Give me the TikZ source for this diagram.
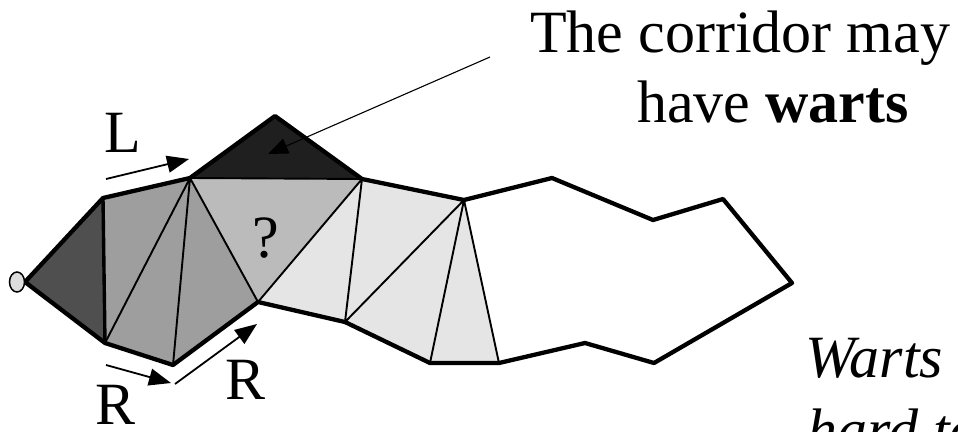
\documentclass[tikz,border=0pt]{standalone}
\usepackage{fontspec}
\setmainfont{Liberation Serif}
\usetikzlibrary{arrows.meta,shapes.geometric}
\definecolor{cdark}{HTML}{4F4F4F}
\definecolor{cmid}{HTML}{9E9E9E}
\definecolor{cq}{HTML}{BBBBBB}
\definecolor{clight}{HTML}{E5E5E5}
\definecolor{cwart}{HTML}{1F1F1F}
\definecolor{cdot}{HTML}{DDDDDD}
\begin{document}
\begin{tikzpicture}[x=1pt,y=-1pt,
  thinedge/.style={line width=1.9pt, line join=round},
  thickedge/.style={line width=4.3pt, line join=round},
  bigtext/.style={font=\fontsize{60}{70}\selectfont, inner sep=0pt},
  arr/.style={line width=1.8pt, -{Triangle[length=22pt,width=17pt]}},
  wartarr/.style={line width=1.1pt, -{Triangle[length=20pt,width=16pt]}},
]
\useasboundingbox (0,0) rectangle (958,431);
\clip (0,0) rectangle (958,431);
% vertices
\coordinate (P0) at (25,282);
\coordinate (A) at (103,198);
\coordinate (C) at (190,178);
\coordinate (W) at (275,116);
\coordinate (F) at (362,179);
\coordinate (G) at (464,200);
\coordinate (T1) at (552,178);
\coordinate (T2) at (653,220);
\coordinate (T3) at (723,199);
\coordinate (T4) at (792,283);
\coordinate (T5) at (654,363);
\coordinate (T6) at (585,343);
\coordinate (J) at (499,363);
\coordinate (I) at (430,363);
\coordinate (H) at (345,322);
\coordinate (E) at (258,302);
\coordinate (D) at (173,365);
\coordinate (B) at (105,343);
% fills
\fill[cdark] (P0)--(A)--(B)--cycle;
\fill[cmid] (A)--(C)--(E)--(D)--(B)--cycle;
\fill[cq] (C)--(F)--(E)--cycle;
\fill[cwart] (C)--(W)--(F)--cycle;
\fill[clight] (E)--(F)--(G)--(J)--(I)--(H)--cycle;
% interior edges
\draw[thinedge] (B)--(C) (D)--(C) (C)--(E) (C)--(F)
  (E)--(F) (F)--(H) (H)--(G) (G)--(I) (G)--(J);
\draw[line width=3.4pt] (A)--(B);
% boundary
\draw[thickedge] (P0)--(A)--(C)--(W)--(F)--(G)--(T1)--(T2)--(T3)--(T4)
  --(T5)--(T6)--(J)--(I)--(H)--(E)--(D)--(B)--cycle;
% small end circle
\node[ellipse, draw, line width=1.5pt, fill=cdot, minimum width=15pt,
  minimum height=20pt, inner sep=0pt] (dot) at (17,282) {};
% labels
\node[bigtext, anchor=base] (lL) at (123,152) {L};
\node[bigtext, anchor=base] (lR1) at (116,424) {R};
\node[bigtext, anchor=base] (lR2) at (246,399) {R};
\node[bigtext, anchor=base] (lq) at (266,257) {?};
% arrows
\coordinate (La) at (106,179);
\coordinate (Lb) at (189,159);
\draw[arr] (La) -- (Lb);
\coordinate (Ra) at (106,365);
\coordinate (Rb) at (171,383);
\draw[arr] (Ra) -- (Rb);
\coordinate (Rc) at (175,384);
\coordinate (Rd) at (257,324);
\draw[arr] (Rc) -- (Rd);
% callout text
\node[bigtext, anchor=base west] (t1) at (530,52) {The corridor may};
\node[bigtext, anchor=base west] (t2) at (637,122) {have \textbf{warts}};
\coordinate (wa) at (490,57);
\coordinate (wb) at (268,154);
\draw[wartarr] (wa) -- (wb);
\node[bigtext, anchor=base west] (t3) at (805,377) {\itshape Warts};
\node[bigtext, anchor=base west] (t4) at (807,450) {\itshape hard to};
\end{tikzpicture}
\end{document}
